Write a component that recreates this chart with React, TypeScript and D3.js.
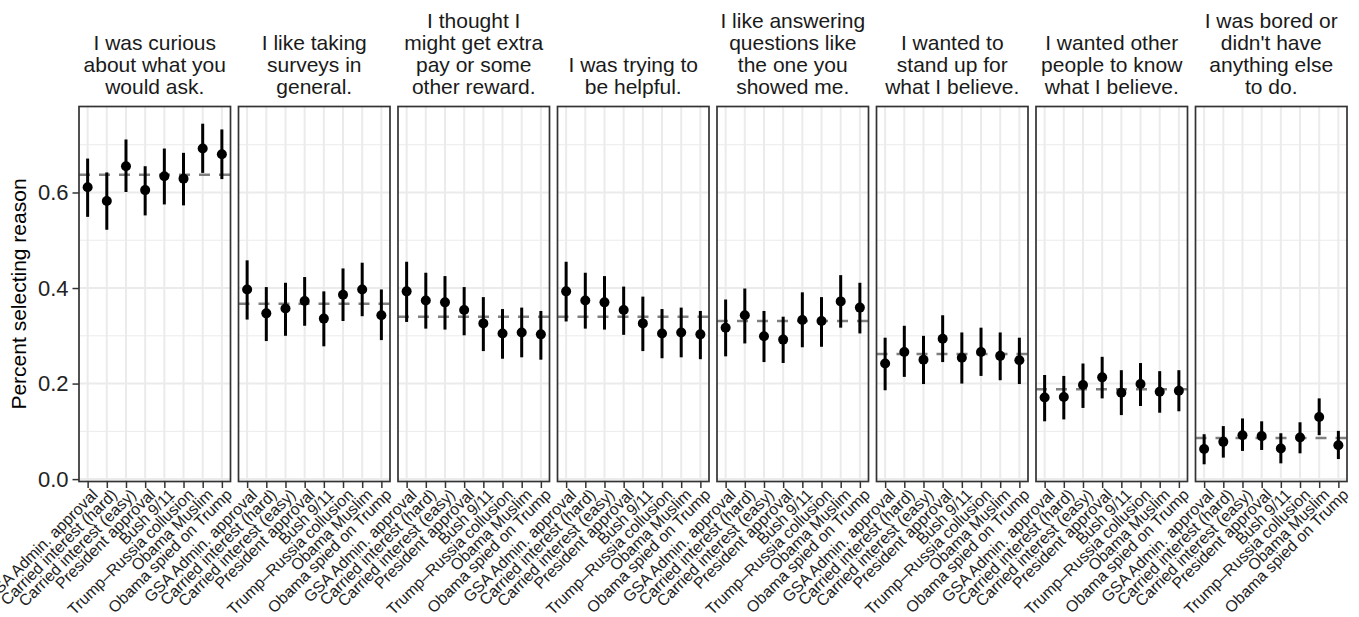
import React, { useRef, useEffect } from "react";
import * as d3 from "d3";

// question versions shown on the x axis of every panel
const versions = [
  "GSA Admin. approval",
  "Carried interest (hard)",
  "Carried interest (easy)",
  "President approval",
  "Bush 9/11",
  "Trump–Russia collusion",
  "Obama Muslim",
  "Obama spied on Trump",
];

// panel titles, one list of lines per reason
const reasons = [
  ["I was curious", "about what you", "would ask."],
  ["I like taking", "surveys in", "general."],
  ["I thought I", "might get extra", "pay or some", "other reward."],
  ["I was trying to", "be helpful."],
  ["I like answering", "questions like", "the one you", "showed me."],
  ["I wanted to", "stand up for", "what I believe."],
  ["I wanted other", "people to know", "what I believe."],
  ["I was bored or", "didn't have", "anything else", "to do."],
];

const estimates = [
  [0.611, 0.582, 0.655, 0.605, 0.634, 0.629, 0.692, 0.680],
  [0.397, 0.347, 0.357, 0.373, 0.336, 0.386, 0.397, 0.343],
  [0.393, 0.374, 0.370, 0.354, 0.326, 0.305, 0.307, 0.303],
  [0.393, 0.374, 0.370, 0.354, 0.326, 0.305, 0.307, 0.303],
  [0.317, 0.343, 0.299, 0.292, 0.333, 0.331, 0.372, 0.359],
  [0.242, 0.266, 0.250, 0.294, 0.254, 0.266, 0.258, 0.249],
  [0.171, 0.172, 0.197, 0.213, 0.181, 0.199, 0.183, 0.185],
  [0.063, 0.078, 0.092, 0.090, 0.064, 0.087, 0.130, 0.071],
];

const lowers = [
  [0.549, 0.522, 0.601, 0.552, 0.575, 0.573, 0.641, 0.628],
  [0.334, 0.289, 0.300, 0.321, 0.278, 0.331, 0.341, 0.291],
  [0.329, 0.315, 0.313, 0.301, 0.268, 0.252, 0.255, 0.250],
  [0.330, 0.315, 0.313, 0.302, 0.268, 0.253, 0.255, 0.251],
  [0.257, 0.284, 0.245, 0.243, 0.276, 0.277, 0.317, 0.305],
  [0.186, 0.214, 0.199, 0.245, 0.200, 0.216, 0.207, 0.199],
  [0.121, 0.125, 0.149, 0.169, 0.134, 0.153, 0.139, 0.142],
  [0.031, 0.045, 0.059, 0.061, 0.033, 0.054, 0.092, 0.042],
];

const uppers = [
  [0.671, 0.642, 0.711, 0.655, 0.692, 0.683, 0.744, 0.732],
  [0.458, 0.402, 0.411, 0.423, 0.393, 0.441, 0.453, 0.397],
  [0.455, 0.432, 0.425, 0.402, 0.381, 0.356, 0.359, 0.352],
  [0.455, 0.432, 0.425, 0.403, 0.382, 0.356, 0.359, 0.352],
  [0.376, 0.399, 0.352, 0.340, 0.391, 0.381, 0.427, 0.411],
  [0.296, 0.321, 0.300, 0.343, 0.307, 0.317, 0.307, 0.296],
  [0.218, 0.216, 0.242, 0.256, 0.228, 0.243, 0.226, 0.228],
  [0.094, 0.111, 0.127, 0.121, 0.096, 0.119, 0.169, 0.101],
];

// overall share per reason (dashed line)
const means = [0.637, 0.367, 0.340, 0.340, 0.331, 0.262, 0.188, 0.086];

const majorTicks = [0, 0.2, 0.4, 0.6];
const minorTicks = [0.1, 0.3, 0.5, 0.7];

const FONT = "'Liberation Sans', Arial, Helvetica, sans-serif";

const App = () => {
  const svgRef = useRef<SVGSVGElement>(null);

  useEffect(() => {
    const svg = d3.select(svgRef.current);
    svg.selectAll("*").remove();

    const W = 1359,
      H = 617;
    const left = 79,
      right = 1347,
      top = 106.5,
      bottom = 481.5,
      gap = 8;
    const n = reasons.length;
    const panelW = (right - left - gap * (n - 1)) / n;

    const y = d3.scaleLinear().domain([-0.005, 0.78]).range([bottom, top]);

    svg.append("rect").attr("width", W).attr("height", H).attr("fill", "white");

    // y axis
    const yAxis = svg.append("g").attr("transform", `translate(${left},0)`);
    yAxis
      .call(d3.axisLeft(y).tickValues(majorTicks).tickFormat(d3.format(".1f")).tickSize(6.5).tickPadding(4))
      .select(".domain")
      .remove();
    yAxis.selectAll("line").attr("stroke", "#333333").attr("stroke-width", 1.5);
    yAxis
      .selectAll("text")
      .attr("font-family", FONT)
      .attr("font-size", 22)
      .attr("fill", "#222222");

    svg
      .append("text")
      .attr("transform", `translate(26,${(top + bottom) / 2}) rotate(-90)`)
      .attr("text-anchor", "middle")
      .attr("font-family", FONT)
      .attr("font-size", 21)
      .attr("fill", "black")
      .text("Percent selecting reason");

    reasons.forEach((lines, p) => {
      const x0 = left + p * (panelW + gap);
      const x = d3
        .scalePoint()
        .domain(versions)
        .range([x0, x0 + panelW])
        .padding(0.45);

      const g = svg.append("g");

      // grid
      g.selectAll(".minor")
        .data(minorTicks)
        .join("line")
        .attr("x1", x0)
        .attr("x2", x0 + panelW)
        .attr("y1", (d) => y(d))
        .attr("y2", (d) => y(d))
        .attr("stroke", "#EBEBEB")
        .attr("stroke-width", 1);
      g.selectAll(".major")
        .data(majorTicks)
        .join("line")
        .attr("x1", x0)
        .attr("x2", x0 + panelW)
        .attr("y1", (d) => y(d))
        .attr("y2", (d) => y(d))
        .attr("stroke", "#EBEBEB")
        .attr("stroke-width", 2);
      g.selectAll(".vgrid")
        .data(versions)
        .join("line")
        .attr("x1", (d) => x(d))
        .attr("x2", (d) => x(d))
        .attr("y1", top)
        .attr("y2", bottom)
        .attr("stroke", "#EBEBEB")
        .attr("stroke-width", 2);

      // dashed mean line
      g.append("line")
        .attr("x1", x0)
        .attr("x2", x0 + panelW)
        .attr("y1", y(means[p]))
        .attr("y2", y(means[p]))
        .attr("stroke", "#7F7F7F")
        .attr("stroke-width", 2.6)
        .attr("stroke-dasharray", "11,9");

      const rows = versions.map((v, i) => ({
        v,
        est: estimates[p][i],
        lo: lowers[p][i],
        hi: uppers[p][i],
      }));

      g.selectAll(".ci")
        .data(rows)
        .join("line")
        .attr("x1", (d) => x(d.v))
        .attr("x2", (d) => x(d.v))
        .attr("y1", (d) => y(d.lo))
        .attr("y2", (d) => y(d.hi))
        .attr("stroke", "black")
        .attr("stroke-width", 3);

      g.selectAll(".pt")
        .data(rows)
        .join("circle")
        .attr("cx", (d) => x(d.v))
        .attr("cy", (d) => y(d.est))
        .attr("r", 5)
        .attr("fill", "black");

      // panel border
      g.append("rect")
        .attr("x", x0)
        .attr("y", top)
        .attr("width", panelW)
        .attr("height", bottom - top)
        .attr("fill", "none")
        .attr("stroke", "#333333")
        .attr("stroke-width", 1.7);

      // x axis
      const xAxis = svg.append("g").attr("transform", `translate(0,${bottom})`);
      xAxis.call(d3.axisBottom(x).tickSize(6.5).tickFormat(() => "")).select(".domain").remove();
      xAxis.selectAll("line").attr("stroke", "#333333").attr("stroke-width", 1.5);

      svg
        .append("g")
        .selectAll("text")
        .data(versions)
        .join("text")
        .attr("transform", (d) => `translate(${x(d)! + 3},${bottom + 6}) rotate(-45)`)
        .attr("text-anchor", "end")
        .attr("dy", "0.72em")
        .attr("font-family", FONT)
        .attr("font-size", 16)
        .attr("fill", "#222222")
        .text((d) => d);

      // strip title, bottom aligned
      const cx = x0 + panelW / 2;
      svg
        .append("g")
        .selectAll("text")
        .data(lines)
        .join("text")
        .attr("x", cx)
        .attr("y", (d, i) => 94 - (lines.length - 1 - i) * 22)
        .attr("text-anchor", "middle")
        .attr("font-family", FONT)
        .attr("font-size", 21)
        .attr("fill", "#1A1A1A")
        .text((d) => d);
    });
  }, []);

  return (
    <svg
      ref={svgRef}
      width={1359}
      height={617}
      style={{ position: "absolute", left: 0, top: 0, display: "block" }}
    ></svg>
  );
};

export default App;
